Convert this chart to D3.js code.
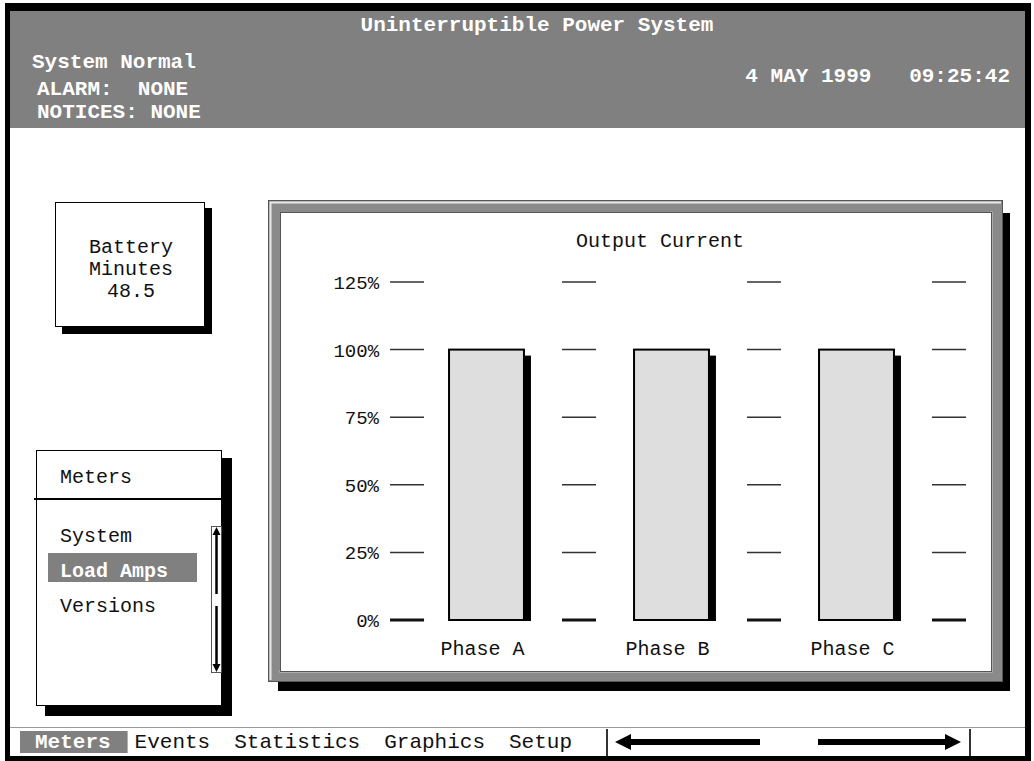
<!DOCTYPE html>
<html lang="en">
<head>
<meta charset="utf-8">
<title>Uninterruptible Power System - Output Current</title>
<style>
  body { margin: 0; background: #fff; }
  svg { display: block; }
  text { font-family: "Liberation Mono", "DejaVu Sans Mono", monospace; }
</style>
</head>
<body>
<script src="https://cdn.jsdelivr.net/npm/d3@7"></script>
<script>

// ---- data ----
var phases = ["Phase A", "Phase B", "Phase C"];
var loadPct = [100, 100, 100];
var yTicks = [0, 25, 50, 75, 100, 125];
var menuItems = ["System", "Load Amps", "Versions"];
var selectedItem = "Load Amps";
var tabs = ["Meters", "Events", "Statistics", "Graphics", "Setup"];
var selectedTab = "Meters";
var headerTitle = "Uninterruptible Power System";
var statusLines = ["ALARM:  NONE", "NOTICES: NONE"];
var stamp = "4 MAY 1999   09:25:42";
var batteryLines = ["Battery", "Minutes", "48.5"];
var chartTitle = "Output Current";

var W = 1034, H = 761;

var svg = d3.select("body").append("svg")
    .attr("width", W)
    .attr("height", H);

// outer screen frame
svg.append("rect").attr("x", 5).attr("y", 3).attr("width", 1026).attr("height", 758).attr("fill", "#000");
svg.append("rect").attr("x", 10).attr("y", 11).attr("width", 1015).attr("height", 745).attr("fill", "#fff");

// header
svg.append("rect").attr("x", 10).attr("y", 11).attr("width", 1015).attr("height", 117).attr("fill", "#808080");

var head = svg.append("g").attr("fill", "#fff").attr("font-weight", "bold").attr("font-size", 21);
head.append("text").attr("x", 537).attr("y", 31).attr("text-anchor", "middle").text(headerTitle);
head.append("text").attr("x", 32).attr("y", 68).text("System Normal");
head.selectAll(".status")
    .data(statusLines)
  .enter().append("text")
    .attr("class", "status")
    .attr("x", 37)
    .attr("y", function(d, i) { return 95 + i * 23; })
    .style("white-space", "pre")
    .text(function(d) { return d; });
head.append("text").attr("x", 1010).attr("y", 82).attr("text-anchor", "end")
    .style("white-space", "pre").text(stamp);

// battery box
svg.append("rect").attr("x", 62).attr("y", 208).attr("width", 150).attr("height", 126).attr("fill", "#000");
svg.append("rect").attr("x", 55.5).attr("y", 202.5).attr("width", 149).attr("height", 124)
    .attr("fill", "#fff").attr("stroke", "#000").attr("stroke-width", 1);
svg.selectAll(".batt")
    .data(batteryLines)
  .enter().append("text")
    .attr("class", "batt")
    .attr("x", 131)
    .attr("y", function(d, i) { return 253 + i * 22; })
    .attr("text-anchor", "middle")
    .attr("font-size", 20)
    .attr("fill", "#111")
    .text(function(d) { return d; });

// meters panel
svg.append("rect").attr("x", 45).attr("y", 458).attr("width", 187).attr("height", 258).attr("fill", "#000");
svg.append("rect").attr("x", 36.5).attr("y", 450.5).attr("width", 185).attr("height", 255)
    .attr("fill", "#fff").attr("stroke", "#000").attr("stroke-width", 1);
svg.append("text").attr("x", 60).attr("y", 483).attr("font-size", 20).attr("fill", "#111").text("Meters");
svg.append("line").attr("x1", 34).attr("x2", 222).attr("y1", 499).attr("y2", 499)
    .attr("stroke", "#000").attr("stroke-width", 2);

svg.append("rect").attr("x", 48).attr("y", 553).attr("width", 149).attr("height", 29).attr("fill", "#808080");
svg.selectAll(".item")
    .data(menuItems)
  .enter().append("text")
    .attr("class", "item")
    .attr("x", 60)
    .attr("y", function(d, i) { return 542 + i * 35; })
    .attr("font-size", 20)
    .attr("font-weight", function(d) { return d === selectedItem ? "bold" : "normal"; })
    .attr("fill", function(d) { return d === selectedItem ? "#fff" : "#111"; })
    .text(function(d) { return d; });

// scrollbar
var sb = svg.append("g");
sb.append("rect").attr("x", 211.5).attr("y", 526.5).attr("width", 10).attr("height", 146)
    .attr("fill", "#fff").attr("stroke", "#555");
sb.append("line").attr("x1", 216.5).attr("x2", 216.5).attr("y1", 533).attr("y2", 594)
    .attr("stroke", "#000").attr("stroke-width", 2.5);
sb.append("line").attr("x1", 216.5).attr("x2", 216.5).attr("y1", 606).attr("y2", 665)
    .attr("stroke", "#000").attr("stroke-width", 2.5);
sb.append("path").attr("d", "M216.5,527 L212.5,535 L220.5,535 Z").attr("fill", "#000");
sb.append("path").attr("d", "M216.5,672 L212.5,664 L220.5,664 Z").attr("fill", "#000");

// chart panel: shadow + bevelled frame
svg.append("rect").attr("x", 278).attr("y", 213).attr("width", 732).attr("height", 478).attr("fill", "#000");
svg.append("rect").attr("x", 268.5).attr("y", 200.5).attr("width", 734).attr("height", 481)
    .attr("fill", "#8a8a8a").attr("stroke", "#555");
svg.append("path")
    .attr("d", "M270.5,680 L270.5,202.5 L1001,202.5")
    .attr("fill", "none").attr("stroke", "#e8e8e8").attr("stroke-width", 2);
svg.append("path")
    .attr("d", "M279.5,671.5 L991.5,671.5 L991.5,211.5")
    .attr("fill", "none").attr("stroke", "#d0d0d0").attr("stroke-width", 2);
svg.append("rect").attr("x", 280.5).attr("y", 212.5).attr("width", 711).attr("height", 459)
    .attr("fill", "#fff").attr("stroke", "#555");

svg.append("text").attr("x", 660).attr("y", 247).attr("text-anchor", "middle")
    .attr("font-size", 20).attr("fill", "#111").text(chartTitle);

// scales
var x = d3.scaleBand()
    .domain(phases)
    .range([394, 949])
    .paddingInner(0.595)
    .paddingOuter(0.2975);

var y = d3.scaleLinear()
    .domain([0, 125])
    .range([620, 282]);

// tick columns: between the bars on the band boundaries, the first one tucked closer to bar A
var cols = d3.range(phases.length + 1).map(function(i) { return x.range()[0] + i * x.step(); });
cols[0] = x(phases[0]) - 42;

var chart = svg.append("g");

yTicks.forEach(function(t) {
    chart.selectAll(".tk" + t)
        .data(cols)
      .enter().append("line")
        .attr("x1", function(c) { return c - 17; })
        .attr("x2", function(c) { return c + 17; })
        .attr("y1", y(t))
        .attr("y2", y(t))
        .attr("stroke", t === 0 ? "#111" : "#333")
        .attr("stroke-width", t === 0 ? 3 : 1.5);
});

chart.selectAll(".ylab")
    .data(yTicks)
  .enter().append("text")
    .attr("class", "ylab")
    .attr("x", cols[0] - 28)
    .attr("y", function(d) { return y(d) + 7; })
    .attr("text-anchor", "end")
    .attr("font-size", 19)
    .attr("fill", "#111")
    .text(function(d) { return d + "%"; });

// bar shadows
chart.selectAll(".shadow")
    .data(loadPct)
  .enter().append("rect")
    .attr("class", "shadow")
    .attr("x", function(d, i) { return x(phases[i]) + x.bandwidth(); })
    .attr("y", function(d) { return y(d) + 6; })
    .attr("width", 7)
    .attr("height", function(d) { return y(0) - y(d) - 5; })
    .attr("fill", "#000");

chart.selectAll(".bar")
    .data(loadPct)
  .enter().append("rect")
    .attr("class", "bar")
    .attr("x", function(d, i) { return x(phases[i]); })
    .attr("y", function(d) { return y(d); })
    .attr("width", x.bandwidth())
    .attr("height", function(d) { return y(0) - y(d); })
    .attr("fill", "#dedede")
    .attr("stroke", "#000")
    .attr("stroke-width", 2);

chart.selectAll(".xlab")
    .data(phases)
  .enter().append("text")
    .attr("class", "xlab")
    .attr("x", function(d) { return x(d) + x.bandwidth() / 2 - 4; })
    .attr("y", 655)
    .attr("text-anchor", "middle")
    .attr("font-size", 20)
    .attr("fill", "#111")
    .text(function(d) { return d; });

// bottom menu bar
svg.append("line").attr("x1", 10).attr("x2", 1025).attr("y1", 727.5).attr("y2", 727.5)
    .attr("stroke", "#999").attr("stroke-width", 1);

var tabX = [];
tabs.reduce(function(acc, t) { tabX.push(acc); return acc + t.length * 12.6 + 24; }, 35);

svg.append("rect")
    .attr("x", tabX[tabs.indexOf(selectedTab)] - 15)
    .attr("y", 731)
    .attr("width", selectedTab.length * 12.6 + 32)
    .attr("height", 22)
    .attr("fill", "#808080");

svg.selectAll(".tab")
    .data(tabs)
  .enter().append("text")
    .attr("class", "tab")
    .attr("x", function(d, i) { return tabX[i]; })
    .attr("y", 748)
    .attr("font-size", 21)
    .attr("font-weight", function(d) { return d === selectedTab ? "bold" : "normal"; })
    .attr("fill", function(d) { return d === selectedTab ? "#fff" : "#111"; })
    .text(function(d) { return d; });

[607, 970].forEach(function(sx) {
    svg.append("line").attr("x1", sx).attr("x2", sx).attr("y1", 729).attr("y2", 756)
        .attr("stroke", "#333").attr("stroke-width", 2);
});

// scroll arrows
svg.append("line").attr("x1", 626).attr("x2", 760).attr("y1", 742).attr("y2", 742)
    .attr("stroke", "#000").attr("stroke-width", 6);
svg.append("path").attr("d", "M615,742 L631,734 L631,750 Z").attr("fill", "#000");
svg.append("line").attr("x1", 818).attr("x2", 950).attr("y1", 742).attr("y2", 742)
    .attr("stroke", "#000").attr("stroke-width", 6);
svg.append("path").attr("d", "M961,742 L945,734 L945,750 Z").attr("fill", "#000");

</script>
</body>
</html>
